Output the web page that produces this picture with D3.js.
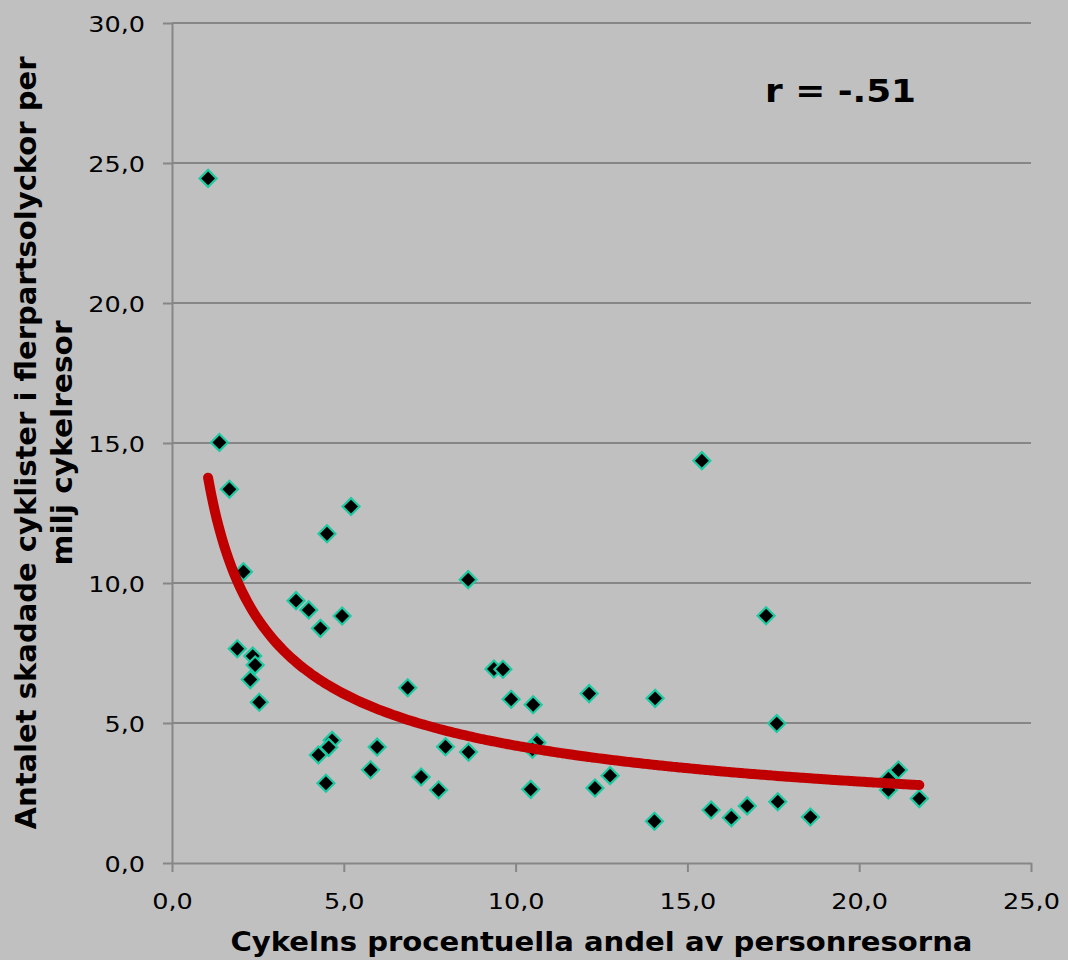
<!DOCTYPE html>
<html>
<head>
<meta charset="utf-8">
<script src="https://cdn.jsdelivr.net/npm/d3@7"></script>
<style>
  html, body { margin: 0; padding: 0; background: #c0c0c0; }
  svg { display: block; }
</style>
</head>
<body>
<svg id="chart" width="1068" height="960"></svg>
<script>
// Bicycle share of all trips (%) per municipality
const cycleShare = [
  1.05, 1.38, 1.67, 5.21, 4.51, 2.08, 3.61, 3.98, 4.95, 4.32,
  1.90, 2.35, 2.42, 2.28, 2.54, 6.86, 4.66, 4.56, 4.26, 5.97,
  5.78, 4.48, 7.25, 7.76, 7.96, 8.62, 9.37, 9.63, 9.87, 10.51,
  12.14, 14.06, 8.63, 10.62, 10.49, 10.44, 12.75, 12.31, 14.04, 15.69,
  16.28, 15.42, 17.29, 17.60, 16.74, 17.63, 18.58, 21.14, 20.85, 20.85,
  21.75
];
// Injured cyclists in multi-party crashes per million cycle trips
const injuredPerMillion = [
  24.45, 15.02, 13.35, 12.73, 11.76, 10.40, 9.37, 9.04, 8.82, 8.38,
  7.65, 7.39, 7.07, 6.55, 5.74, 6.26, 4.38, 4.13, 3.86, 4.14,
  3.33, 2.85, 3.07, 2.61, 4.15, 10.12, 6.93, 6.92, 5.85, 5.65,
  6.05, 5.88, 3.96, 4.30, 4.06, 2.63, 3.12, 2.68, 1.49, 1.89,
  1.62, 14.37, 8.83, 4.98, 2.04, 2.19, 1.64, 3.32, 3.01, 2.61,
  2.30
];

const xTicks = [0, 5, 10, 15, 20, 25];
const yTicks = [0, 5, 10, 15, 20, 25, 30];

const xTitle = "Cykelns procentuella andel av personresorna";
const yTitleLines = ["Antalet skadade cyklister i flerpartsolyckor per", "milj cykelresor"];
const corrLabel = "r = -.51";

const FONT = "'DejaVu Sans', Verdana, sans-serif";
const BG = "#c0c0c0";
const GRID = "#868686";
const WIDE = 1.16; // horizontal widening of the label glyphs

const svg = d3.select("#chart");
svg.append("rect").attr("width", 1068).attr("height", 960).attr("fill", BG);

const x = d3.scaleLinear().domain([0, 25]).range([172, 1031]);
const y = d3.scaleLinear().domain([0, 30]).range([863, 23]);
const fmt = v => d3.format(".1f")(v).replace(".", ",");

// horizontal gridlines
svg.append("g")
  .selectAll("line")
  .data(yTicks.filter(d => d > 0))
  .join("line")
  .attr("x1", x(0)).attr("x2", x(25))
  .attr("y1", d => y(d)).attr("y2", d => y(d))
  .attr("stroke", GRID).attr("stroke-width", 2);

// y axis
const yAxis = svg.append("g")
  .attr("transform", `translate(${x(0)},0)`)
  .call(d3.axisLeft(y).tickValues(yTicks).tickSize(9).tickSizeOuter(0).tickFormat(fmt));
yAxis.select(".domain").attr("stroke", GRID).attr("stroke-width", 2);
yAxis.selectAll(".tick line").attr("stroke", GRID).attr("stroke-width", 2);
yAxis.selectAll(".tick text")
  .attr("font-family", FONT).attr("font-size", 22).attr("fill", "#000")
  .attr("x", -27 / WIDE).attr("dy", "0.37em")
  .attr("transform", `scale(${WIDE},1)`);

// x axis
const xAxis = svg.append("g")
  .attr("transform", `translate(0,${y(0)})`)
  .call(d3.axisBottom(x).tickValues(xTicks).tickSize(9).tickSizeOuter(0).tickFormat(fmt));
xAxis.select(".domain").attr("stroke", GRID).attr("stroke-width", 2);
xAxis.selectAll(".tick line").attr("stroke", GRID).attr("stroke-width", 2);
xAxis.selectAll(".tick text")
  .attr("font-family", FONT).attr("font-size", 22).attr("fill", "#000")
  .attr("y", 46).attr("dy", 0)
  .attr("transform", `scale(${WIDE},1)`);
svg.selectAll(".domain").raise();

// data points: black diamonds with a teal outline
const points = cycleShare.map((v, i) => ({ x: v, y: injuredPerMillion[i] }));
const diamond = d3.symbol(d3.symbolSquare, 12 * 12);
svg.append("g")
  .selectAll("path")
  .data(points)
  .join("path")
  .attr("d", diamond)
  .attr("transform", d => `translate(${x(d.x)},${y(d.y)}) rotate(45)`)
  .attr("fill", "#000")
  .attr("stroke", "#1ccaa2")
  .attr("stroke-width", 2.2);

// power trend line y = a * x^b, least squares on log-log values
const lx = cycleShare.map(Math.log);
const ly = injuredPerMillion.map(Math.log);
const mx = d3.mean(lx), my = d3.mean(ly);
const b = d3.sum(lx, (v, i) => (v - mx) * (ly[i] - my)) / d3.sum(lx, v => (v - mx) * (v - mx));
const a = Math.exp(my - b * mx);
const [xMin, xMax] = d3.extent(cycleShare);
const trend = d3.range(0, 201).map(i => {
  const xv = xMin + (xMax - xMin) * i / 200;
  return [xv, a * Math.pow(xv, b)];
});
svg.append("path")
  .datum(trend)
  .attr("d", d3.line().x(d => x(d[0])).y(d => y(d[1])).curve(d3.curveMonotoneX))
  .attr("fill", "none")
  .attr("stroke", "#c00000")
  .attr("stroke-width", 10)
  .attr("stroke-linecap", "round");

// correlation label
svg.append("text")
  .attr("x", 765).attr("y", 102)
  .attr("font-family", FONT).attr("font-size", 32).attr("font-weight", "bold")
  .attr("textLength", 151).attr("lengthAdjust", "spacingAndGlyphs")
  .text(corrLabel);

// axis titles
svg.append("text")
  .attr("x", (x(0) + x(25)) / 2).attr("y", 951)
  .attr("text-anchor", "middle")
  .attr("font-family", FONT).attr("font-size", 27).attr("font-weight", "bold")
  .attr("textLength", 742).attr("lengthAdjust", "spacingAndGlyphs")
  .text(xTitle);

const yMid = (y(0) + y(30)) / 2;
const yTitleLens = [773, 245];
yTitleLines.forEach((line, i) => {
  svg.append("text")
    .attr("transform", `translate(${36 + i * 36},${yMid}) rotate(-90)`)
    .attr("text-anchor", "middle")
    .attr("font-family", FONT).attr("font-size", 28.5).attr("font-weight", "bold")
    .attr("textLength", yTitleLens[i]).attr("lengthAdjust", "spacingAndGlyphs")
    .text(line);
});
</script>
</body>
</html>
